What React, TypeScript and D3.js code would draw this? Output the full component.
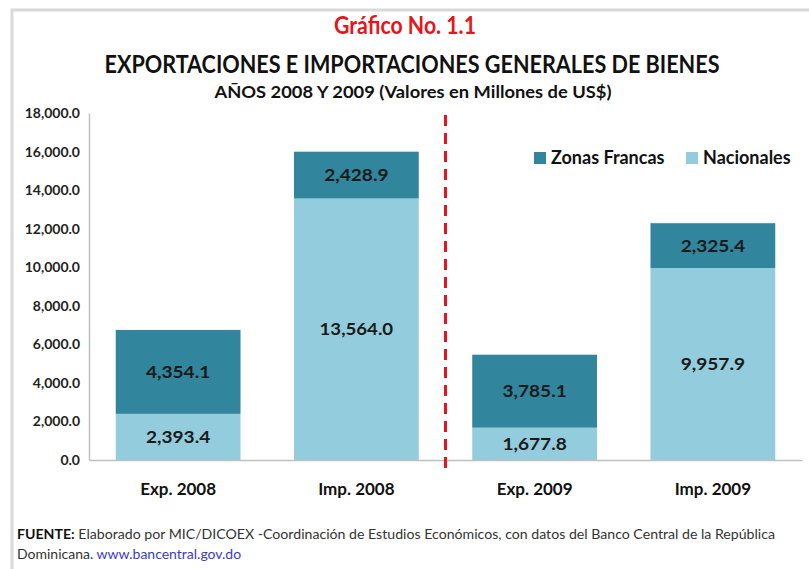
import React, { useRef, useEffect } from 'react';
import * as d3 from 'd3';

const categories = ['Exp. 2008', 'Imp. 2008', 'Exp. 2009', 'Imp. 2009'];
const nacionales = [2393.4, 13564.0, 1677.8, 9957.9];
const zonasFrancas = [4354.1, 2428.9, 3785.1, 2325.4];
const yTicks = [0, 2000, 4000, 6000, 8000, 10000, 12000, 14000, 16000, 18000];
const seriesNames = ['Zonas Francas', 'Nacionales'];

const W = 809;
const H = 569;
const FONT = 'Lato, "Open Sans", sans-serif';
const DARK = '#31859c';
const LIGHT = '#93cddd';

export default function App() {
  const ref = useRef<SVGSVGElement>(null);

  useEffect(() => {
    drawChart();
  }, []);

  function drawChart() {
    const svg = d3.select(ref.current);
    svg.selectAll('*').remove();

    const margin = { top: 113, right: 7, bottom: 109, left: 89 };

    // outer frame
    svg.append('path')
      .attr('d', `M12,${H} L12,10 L${W},10`)
      .attr('fill', 'none')
      .attr('stroke', '#d9d9d9')
      .attr('stroke-width', 3);

    // titles
    svg.append('text')
      .attr('x', 405).attr('y', 34)
      .attr('text-anchor', 'middle')
      .attr('font-family', FONT)
      .attr('font-size', 24)
      .attr('font-weight', 700)
      .attr('fill', '#e8141b')
      .attr('textLength', 142)
      .attr('lengthAdjust', 'spacingAndGlyphs')
      .text('Gráfico No. 1.1');

    svg.append('text')
      .attr('x', 412).attr('y', 73)
      .attr('text-anchor', 'middle')
      .attr('font-family', FONT)
      .attr('font-size', 24)
      .attr('font-weight', 700)
      .attr('fill', '#111')
      .attr('textLength', 615)
      .attr('lengthAdjust', 'spacingAndGlyphs')
      .text('EXPORTACIONES E IMPORTACIONES GENERALES DE BIENES');

    svg.append('text')
      .attr('x', 413).attr('y', 98)
      .attr('text-anchor', 'middle')
      .attr('font-family', FONT)
      .attr('font-size', 17)
      .attr('font-weight', 700)
      .attr('fill', '#111')
      .attr('textLength', 397)
      .attr('lengthAdjust', 'spacingAndGlyphs')
      .text('AÑOS 2008 Y 2009 (Valores en Millones de US$)');

    const x = d3.scaleBand()
      .domain(categories)
      .range([margin.left, W - margin.right])
      .paddingInner(0.3)
      .paddingOuter(0.15);

    const y = d3.scaleLinear()
      .domain([0, 18000])
      .range([H - margin.bottom, margin.top]);

    const stacked = categories.map((c, i) => ({
      cat: c,
      segs: [
        { name: 'Nacionales', y0: 0, y1: nacionales[i], v: nacionales[i], color: LIGHT },
        { name: 'Zonas Francas', y0: nacionales[i], y1: nacionales[i] + zonasFrancas[i], v: zonasFrancas[i], color: DARK },
      ],
    }));

    const fmt = d3.format(',.1f');

    const groups = svg.append('g').selectAll('g')
      .data(stacked)
      .enter().append('g');

    groups.selectAll('rect')
      .data(d => d.segs.map(s => ({ ...s, cat: d.cat })))
      .enter().append('rect')
      .attr('x', d => x(d.cat)!)
      .attr('width', x.bandwidth())
      .attr('y', d => y(d.y1))
      .attr('height', d => y(d.y0) - y(d.y1))
      .attr('fill', d => d.color);

    groups.selectAll('text')
      .data(d => d.segs.map(s => ({ ...s, cat: d.cat })))
      .enter().append('text')
      .attr('x', d => x(d.cat)! + x.bandwidth() / 2)
      .attr('y', d => (y(d.y0) + y(d.y1)) / 2 + 6)
      .attr('text-anchor', 'middle')
      .attr('font-family', FONT)
      .attr('font-size', 17)
      .attr('font-weight', 700)
      .attr('fill', '#1a1a1a')
      .attr('textLength', d => fmt(d.v).length * 9.2)
      .attr('lengthAdjust', 'spacingAndGlyphs')
      .text(d => fmt(d.v));

    // y axis
    const yAxis = d3.axisLeft(y)
      .tickValues(yTicks)
      .tickFormat(d => fmt(d as number))
      .tickSize(0)
      .tickPadding(9);

    const gy = svg.append('g')
      .attr('transform', `translate(${margin.left},0)`)
      .call(yAxis);
    gy.select('.domain').attr('stroke', '#bfbfbf').attr('stroke-width', 1.5);
    gy.selectAll('text')
      .attr('font-family', FONT)
      .attr('font-size', 14)
      .attr('font-weight', 700)
      .attr('fill', '#222');

    // x axis
    const xAxis = d3.axisBottom(x).tickSize(0).tickPadding(23);
    const gx = svg.append('g')
      .attr('transform', `translate(0,${H - margin.bottom})`)
      .call(xAxis);
    gx.select('.domain').attr('stroke', '#bfbfbf').attr('stroke-width', 1.5);
    gx.selectAll('text')
      .attr('font-family', FONT)
      .attr('font-size', 17)
      .attr('font-weight', 700)
      .attr('fill', '#111');

    // separator
    const sepX = (x('Imp. 2008')! + x.bandwidth() + x('Exp. 2009')!) / 2;
    svg.append('line')
      .attr('x1', sepX).attr('x2', sepX)
      .attr('y1', margin.top + 2).attr('y2', H - margin.bottom + 12)
      .attr('stroke', '#e8141b')
      .attr('stroke-width', 3)
      .attr('stroke-dasharray', '11,7');

    // legend
    const legend = svg.append('g').attr('transform', 'translate(534,152)');
    const legendX = [0, 152];
    seriesNames.forEach((n, i) => {
      const g = legend.append('g').attr('transform', `translate(${legendX[i]},0)`);
      g.append('rect').attr('width', 12).attr('height', 12)
        .attr('fill', n === 'Zonas Francas' ? DARK : LIGHT);
      g.append('text')
        .attr('x', 17).attr('y', 12)
        .attr('font-family', FONT)
        .attr('font-size', 18)
        .attr('font-weight', 700)
        .attr('fill', '#111')
        .text(n);
    });

    // footer
    const f1 = svg.append('text')
      .attr('x', 17).attr('y', 539)
      .attr('font-family', FONT)
      .attr('font-size', 14)
      .attr('fill', '#333')
      .attr('textLength', 758)
      .attr('lengthAdjust', 'spacingAndGlyphs');
    f1.append('tspan').attr('font-weight', 700).attr('fill', '#111').text('FUENTE:');
    f1.append('tspan').text(' Elaborado por MIC/DICOEX -Coordinación  de Estudios Económicos, con datos del Banco Central de la República');

    const f2 = svg.append('text')
      .attr('x', 17).attr('y', 559)
      .attr('font-family', FONT)
      .attr('font-size', 14)
      .attr('fill', '#333');
    f2.append('tspan').text('Dominicana. ');
    f2.append('tspan').attr('fill', '#3a3ad0').text('www.bancentral.gov.do');
  }

  return (
    <svg ref={ref} width={W} height={H} style={{ position: 'absolute', left: 0, top: 0, background: '#fff' }} />
  );
}
